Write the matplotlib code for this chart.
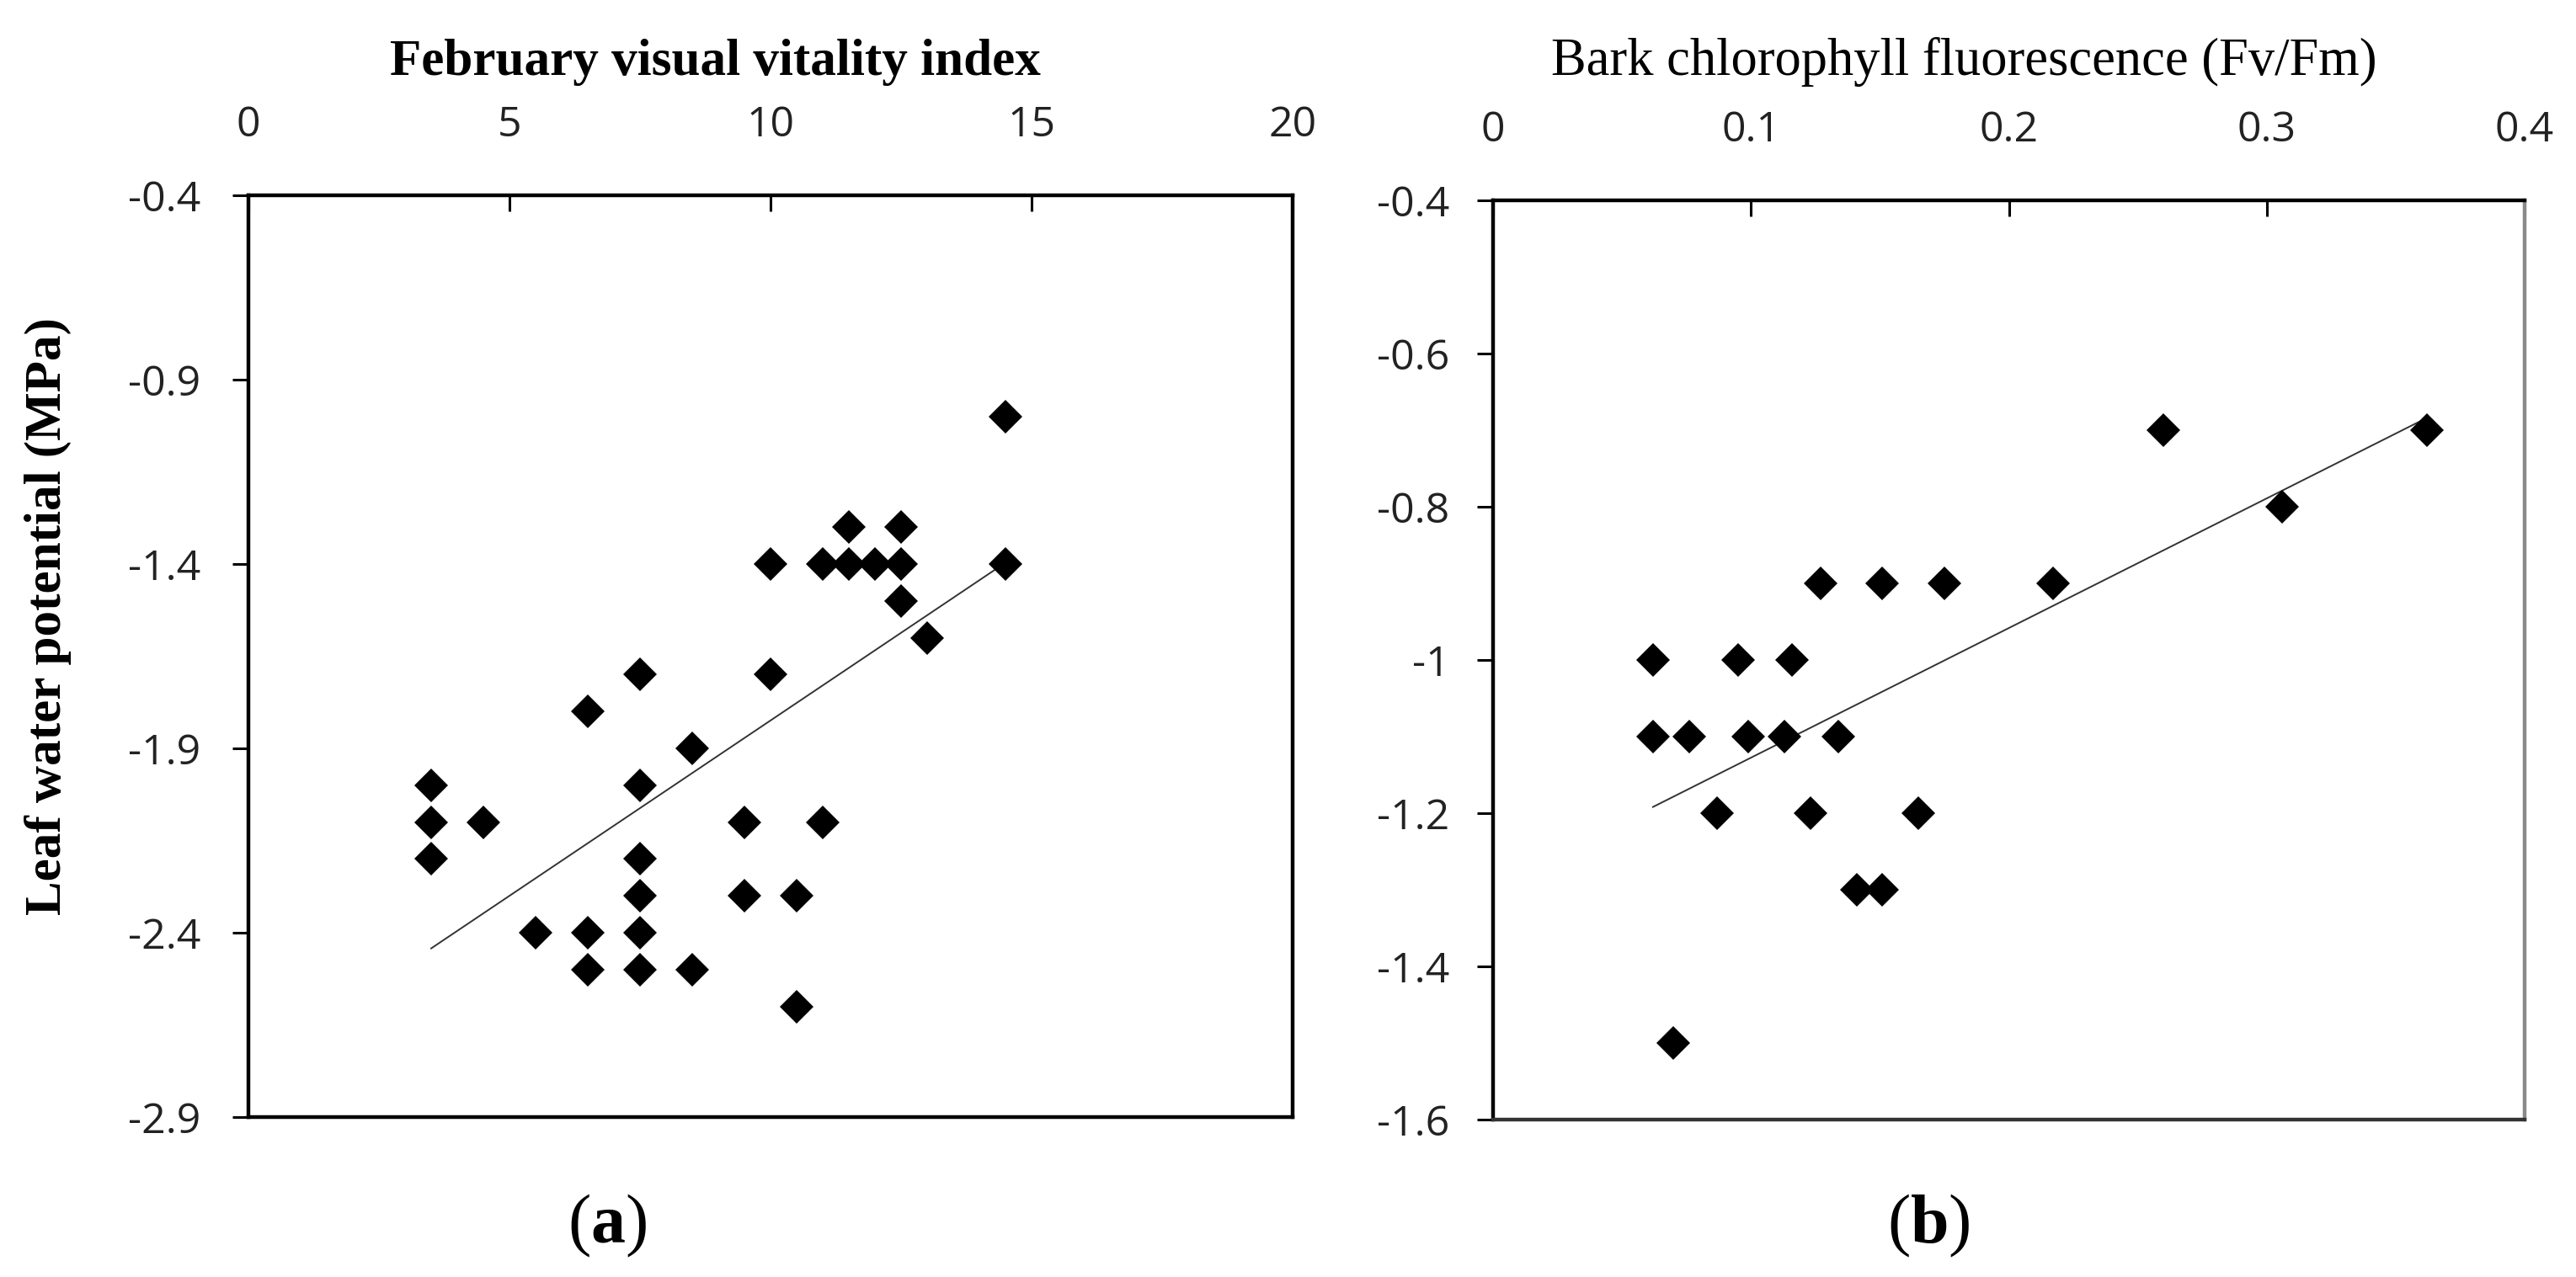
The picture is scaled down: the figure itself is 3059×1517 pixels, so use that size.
import matplotlib
matplotlib.use("Agg")
import matplotlib.pyplot as plt
import numpy as np

plt.rcParams["axes.unicode_minus"] = False
plt.rcParams["mathtext.fontset"] = "custom"
plt.rcParams["mathtext.rm"] = "Liberation Serif"
plt.rcParams["mathtext.bf"] = "Liberation Serif:bold"

# --- data -----------------------------------------------------------------
# (a) February visual vitality index vs leaf water potential
vitality = [14.5, 14.5, 11.5, 12.5, 10, 11, 11.5, 12, 12.5, 12.5, 13,
            7.5, 10, 6.5, 8.5, 3.5, 7.5, 3.5, 4.5, 9.5, 11, 3.5, 7.5,
            7.5, 9.5, 10.5, 5.5, 6.5, 7.5, 6.5, 7.5, 8.5, 10.5]
lwp_a = [-1.0, -1.4, -1.3, -1.3, -1.4, -1.4, -1.4, -1.4, -1.4, -1.5, -1.6,
         -1.7, -1.7, -1.8, -1.9, -2.0, -2.0, -2.1, -2.1, -2.1, -2.1, -2.2, -2.2,
         -2.3, -2.3, -2.3, -2.4, -2.4, -2.4, -2.5, -2.5, -2.5, -2.6]

# (b) bark chlorophyll fluorescence vs leaf water potential
fvfm = [0.062, 0.062, 0.076, 0.087, 0.095, 0.099, 0.116, 0.113, 0.127,
        0.123, 0.134, 0.141, 0.151, 0.151, 0.175, 0.165, 0.217, 0.260,
        0.306, 0.362, 0.070]
lwp_b = [-1.0, -1.1, -1.1, -1.2, -1.0, -1.1, -1.0, -1.1, -0.9,
         -1.2, -1.1, -1.3, -1.3, -0.9, -0.9, -1.2, -0.9, -0.7,
         -0.8, -0.7, -1.5]

xticks_a = [0, 5, 10, 15, 20]
yticks_a = [-0.4, -0.9, -1.4, -1.9, -2.4, -2.9]
xticks_b = [0, 0.1, 0.2, 0.3, 0.4]
yticks_b = [-0.4, -0.6, -0.8, -1, -1.2, -1.4, -1.6]

W, H = 3059, 1517
fig = plt.figure(figsize=(W / 100, H / 100), dpi=100)

TICK_FONT = dict(family="Open Sans", size=36, color="#222222")


def px_axes(left, right, top, bottom):
    return fig.add_axes([left / W, (H - bottom) / H, (right - left) / W,
                         (bottom - top) / H])


def style_axes(ax, xticks, yticks, ypad):
    for sp in ax.spines.values():
        sp.set_linewidth(3.2)
        sp.set_color("black")
    ax.xaxis.tick_top()
    ax.set_xticks(xticks)
    ax.set_yticks(yticks)
    ax.set_xticklabels([f"{v:g}" for v in xticks], fontdict=TICK_FONT)
    ax.set_yticklabels([f"{v:g}" for v in yticks], fontdict=TICK_FONT)
    ax.tick_params(axis="x", direction="in", length=14, width=2.2,
                   pad=42, top=True, bottom=False)
    ax.tick_params(axis="y", direction="out", length=14, width=2.2,
                   pad=ypad, left=True, right=False)


def scatter_with_trend(ax, x, y):
    x = np.asarray(x)
    y = np.asarray(y)
    k, b = np.polyfit(x, y, 1)
    xs = np.array([x.min(), x.max()])
    ax.plot(xs, k * xs + b, color="#333333", lw=1.4, zorder=2)
    ax.plot(x, y, ls="none", marker="D", ms=20, color="black",
            mec="black", mew=0, zorder=3)


# --- panel (a) ------------------------------------------------------------
ax_a = px_axes(295, 1535, 232, 1327)
scatter_with_trend(ax_a, vitality, lwp_a)
ax_a.set_xlim(0, 20)
ax_a.set_ylim(-2.9, -0.4)
style_axes(ax_a, xticks_a, yticks_a, ypad=27)

# --- panel (b) ------------------------------------------------------------
ax_b = px_axes(1773, 2998, 238, 1330)
scatter_with_trend(ax_b, fvfm, lwp_b)
ax_b.set_xlim(0, 0.4)
ax_b.set_ylim(-1.6, -0.4)
style_axes(ax_b, xticks_b, yticks_b, ypad=23)
ax_b.spines["right"].set_color("#8a8a8a")
ax_b.spines["bottom"].set_color("#333333")

# --- labels ---------------------------------------------------------------
fig.text(849 / W, (H - 89) / H, "February visual vitality index",
         family="Liberation Serif", weight="bold", size=44,
         ha="center", va="baseline")
fig.text(2332 / W, (H - 89) / H, "Bark chlorophyll fluorescence (Fv/Fm)",
         family="Liberation Serif", size=45, ha="center", va="baseline")
fig.text(57 / W, (H - 732) / H, "Leaf water potential (MPa)",
         family="Liberation Serif", weight="bold", size=44,
         rotation=90, ha="center", va="center")

fig.text(721 / W, (H - 1456) / H, r"($\mathbf{a}$)", size=59,
         family="Liberation Serif", ha="center", va="center")
fig.text(2290 / W, (H - 1456) / H, r"($\mathbf{b}$)", size=59,
         family="Liberation Serif", ha="center", va="center")

fig.savefig("out.png", dpi=100)
